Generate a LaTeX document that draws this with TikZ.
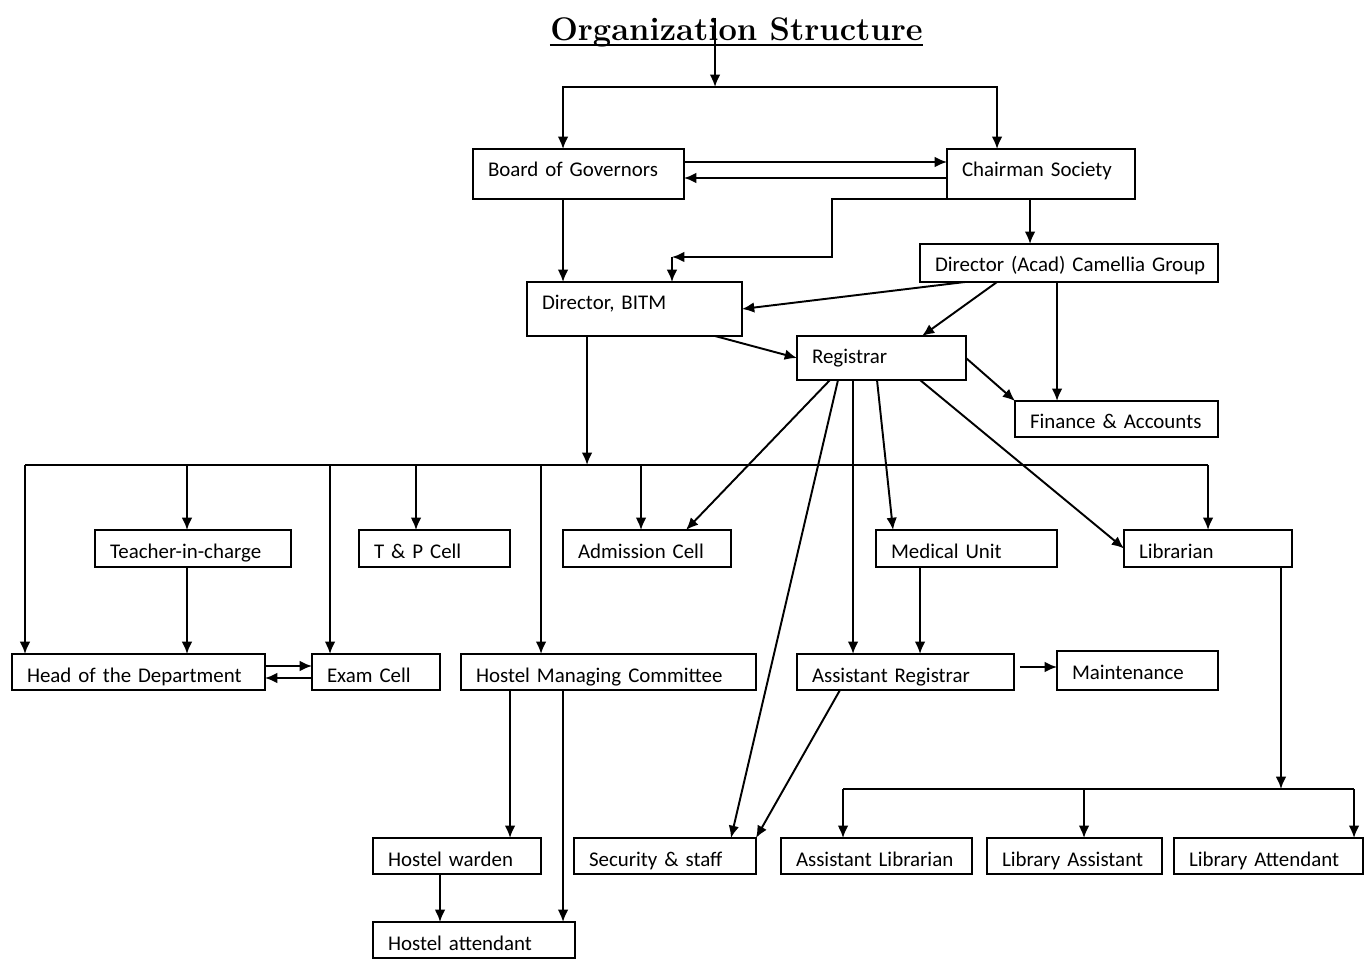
\documentclass[tikz,border=0pt]{standalone}
\usepackage{fontspec}
\newfontfamily\calib{Carlito}
\usetikzlibrary{positioning, arrows.meta, calc}

\tikzset{
  box/.style={draw, line width=1.1pt, rectangle, align=left, inner xsep=0.3cm, inner ysep=0pt, outer sep=0pt, text height=0.56cm, font=\calib\fontsize{11.9}{14}\selectfont},
  arr/.style={line width=1.1pt, -{Latex[length=7pt,width=6pt]}},
  ln/.style={line width=1.1pt}
}

\begin{document}
\begin{tikzpicture}[x=0.02cm, y=-0.02cm]
	\useasboundingbox (0,0) rectangle (1365,959);
	\node[anchor=base, inner sep=0pt, font=\bfseries\fontsize{18.6}{22}\selectfont] (title) at (736.5,41) {Organization Structure};
	\draw[line width=1.2pt] ([yshift=-2.5pt]title.base west) -- ([yshift=-2.5pt]title.base east);
	
	% top level
	\node[box, minimum width=4.22cm, text depth=0.44cm, text width=3.62cm] (bog) at (578.5,174) {Board of Governors};
	\node[box, minimum width=3.76cm, text depth=0.44cm, text width=3.16cm] (chair) at (1041,174) {Chairman Society};
	\node[box, minimum width=5.96cm, text depth=0.20cm, text width=5.36cm] (acad) at (1069,263) {\mbox{Director (Acad) Camellia Group}};
	\node[box, minimum width=4.30cm, text depth=0.52cm, text width=3.70cm] (bitm) at (634.5,309) {Director, BITM};
	\node[box, minimum width=3.38cm, text depth=0.32cm, text width=2.78cm] (reg) at (881.5,358) {Registrar};
	\node[box, minimum width=4.06cm, text depth=0.16cm, text width=3.46cm] (fin) at (1116.5,419) {Finance \& Accounts};
	
	% second row
	\node[box, minimum width=3.92cm, text depth=0.18cm, text width=3.32cm] (teach) at (193,548.5) {Teacher-in-charge};
	\node[box, minimum width=3.02cm, text depth=0.18cm, text width=2.42cm] (tp) at (434.5,548.5) {T \& P Cell};
	\node[box, minimum width=3.36cm, text depth=0.18cm, text width=2.76cm] (adm) at (647,548.5) {Admission Cell};
	\node[box, minimum width=3.62cm, text depth=0.18cm, text width=3.02cm] (med) at (966.5,548.5) {Medical Unit};
	\node[box, minimum width=3.36cm, text depth=0.18cm, text width=2.76cm] (lib) at (1208,548.5) {Librarian};
	
	% third row
	\node[box, minimum width=5.06cm, text depth=0.16cm, text width=4.46cm] (hod) at (138.5,672) {Head of the Department};
	\node[box, minimum width=2.56cm, text depth=0.16cm, text width=1.96cm] (exam) at (376,672) {Exam Cell};
	\node[box, minimum width=5.90cm, text depth=0.16cm, text width=5.30cm] (hmc) at (608.5,672) {Hostel Managing Committee};
	\node[box, minimum width=4.34cm, text depth=0.16cm, text width=3.74cm] (areg) at (905.5,672) {Assistant Registrar};
	\node[box, minimum width=3.22cm, text depth=0.22cm, text width=2.62cm] (maint) at (1137.5,670.5) {Maintenance};
	
	% bottom rows
	\node[box, minimum width=3.36cm, text depth=0.16cm, text width=2.76cm] (warden) at (457,856) {Hostel warden};
	\node[box, minimum width=3.64cm, text depth=0.16cm, text width=3.04cm] (sec) at (665,856) {Security \& staff};
	\node[box, minimum width=3.82cm, text depth=0.16cm, text width=3.22cm] (alib) at (876.5,856) {Assistant Librarian};
	\node[box, minimum width=3.50cm, text depth=0.16cm, text width=2.90cm] (lasst) at (1074.5,856) {Library Assistant};
	\node[box, minimum width=3.78cm, text depth=0.16cm, text width=3.18cm] (latt) at (1268.5,856) {Library Attendant};
	\node[box, minimum width=4.04cm, text depth=0.16cm, text width=3.44cm] (hatt) at (474,940) {Hostel attendant};
	
	\coordinate (split) at (715,87);
	\coordinate (bend) at (832,257);
	\coordinate (busL) at (25,465);
	\coordinate (busR) at (1208,465);
	\coordinate (lbusL) at (843,789);
	\coordinate (lbusR) at (1354,789);
	
	\draw[arr] (title.north -| split) -- (split);
	\draw[arr] (split) -| ([xshift=-0.31cm]bog.north);
	\draw[arr] (split) -| ([xshift=-0.88cm]chair.north);
	\draw[arr] ([yshift=0.24cm]bog.east) -- ([yshift=0.24cm]chair.west);
	\draw[arr] ([yshift=-0.08cm]chair.west) -- ([yshift=-0.08cm]bog.east);
	\draw[arr] ([xshift=-0.22cm]chair.south) -- ([xshift=-0.22cm]chair.south |- acad.north);
	\draw[arr] (chair.south west) -| (bend) -- ([xshift=0.75cm]bitm.north |- bend);
	\draw[arr] ([xshift=0.75cm]bitm.north |- bend) -- ([xshift=0.75cm]bitm.north);
	\draw[arr] ([xshift=-0.31cm]bog.south) -- ([xshift=-0.31cm]bog.south |- bitm.north);
	\draw[arr] ([xshift=-2.08cm]acad.south) -- (bitm.east);
	\draw[arr] ([xshift=-1.44cm]acad.south) -- ([xshift=0.81cm]reg.north);
	\draw[arr] ([xshift=-0.24cm]acad.south) -- ([xshift=-0.24cm]acad.south |- fin.north);
	\draw[arr] ([xshift=1.61cm]bitm.south) -- (reg.west);
	\draw[arr] (reg.east) -- (fin.north west);
	
	% bus below Director, BITM
	\draw[arr] ([xshift=-0.95cm]bitm.south) -- ([xshift=-0.95cm]bitm.south |- busL);
	\draw[ln] (busL) -- (busR);
	\draw[arr] (busL) -- (busL |- hod.north);
	\draw[arr] ([xshift=-0.12cm]teach.north |- busL) -- ([xshift=-0.12cm]teach.north);
	\draw[arr] ([xshift=-0.92cm]exam.north |- busL) -- ([xshift=-0.92cm]exam.north);
	\draw[arr] ([xshift=-0.37cm]tp.north |- busL) -- ([xshift=-0.37cm]tp.north);
	\draw[arr] ([xshift=-1.35cm]hmc.north |- busL) -- ([xshift=-1.35cm]hmc.north);
	\draw[arr] ([xshift=-0.12cm]adm.north |- busL) -- ([xshift=-0.12cm]adm.north);
	\draw[arr] (busR) -- (lib.north);
	\draw[arr] ([xshift=-0.12cm]teach.south) -- ([xshift=-0.12cm]teach.south |- hod.north);
	\draw[arr] ([yshift=0.12cm]hod.east) -- ([yshift=0.12cm]exam.west);
	\draw[arr] ([yshift=-0.12cm]exam.west) -- ([yshift=-0.12cm]hod.east);
	
	% from Registrar
	\draw[arr] ([xshift=-1.03cm]reg.south) -- ([xshift=0.78cm]adm.north);
	\draw[arr] ([xshift=-0.87cm]reg.south) -- ([xshift=1.32cm]sec.north);
	\draw[arr] ([xshift=-0.57cm]reg.south) -- ([xshift=-0.57cm]reg.south |- areg.north);
	\draw[arr] ([xshift=-0.09cm]reg.south) -- ([xshift=-1.47cm]med.north);
	\draw[arr] ([xshift=0.77cm]reg.south) -- (lib.west);
	\draw[arr] ([xshift=-0.93cm]med.south) -- ([xshift=-0.93cm]med.south |- areg.north);
	\draw[arr] ([xshift=0.12cm,yshift=0.1cm]areg.east) -- ([yshift=0.1cm]areg.east -| maint.west);
	\draw[arr] ([xshift=-1.31cm]areg.south) -- (sec.north east);
	
	% library
	\draw[arr] ([xshift=1.46cm]lib.south) -- ([xshift=1.46cm]lib.south |- lbusL);
	\draw[ln] (lbusL) -- (lbusR);
	\draw[arr] (lbusL) -- (lbusL |- alib.north);
	\draw[arr] ([xshift=0.19cm]lasst.north |- lbusL) -- ([xshift=0.19cm]lasst.north);
	\draw[arr] (lbusR) -- (lbusR |- latt.north);
	
	% hostel
	\draw[arr] ([xshift=-1.97cm]hmc.south) -- ([xshift=-1.97cm]hmc.south |- warden.north);
	\draw[arr] ([xshift=-0.91cm]hmc.south) -- ([xshift=-0.91cm]hmc.south |- hatt.north);
	\draw[arr] ([xshift=-0.34cm]warden.south) -- ([xshift=-0.34cm]warden.south |- hatt.north);
\end{tikzpicture}
\end{document}
